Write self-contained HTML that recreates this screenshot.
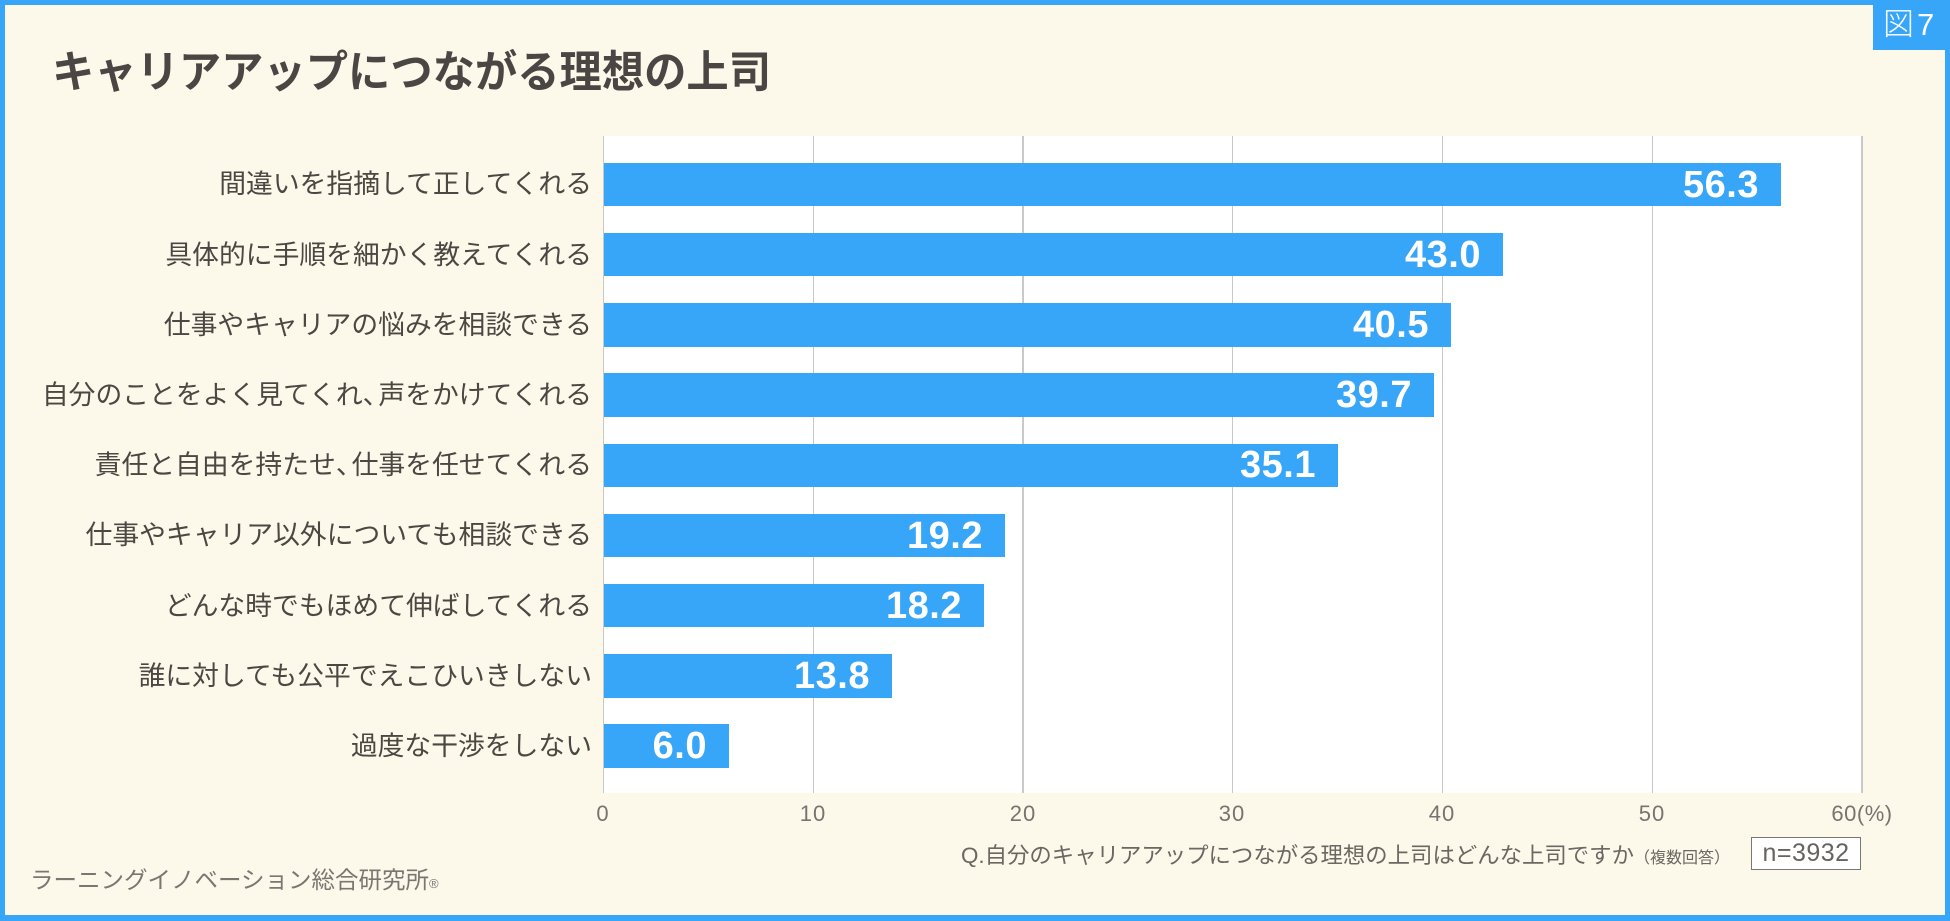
<!DOCTYPE html>
<html><head><meta charset="utf-8">
<style>
html,body{margin:0;padding:0;}
body{width:1950px;height:921px;position:relative;overflow:hidden;background:#37a5f8;font-family:"Liberation Sans","Noto Sans CJK JP",sans-serif;}
.inner{position:absolute;left:5px;top:5px;width:1940px;height:910px;background:#fcf8ea;}
.abs{position:absolute;white-space:nowrap;}
.titlesvg{position:absolute;left:0;top:0;}
.badge{position:absolute;left:1873px;top:0;width:77px;height:50px;background:#37a5f8;}
.badge span{position:absolute;left:10px;top:8px;font-size:31px;line-height:34px;color:#fff;letter-spacing:3px;font-family:"Liberation Sans","Noto Sans CJK JP",sans-serif;font-weight:300;}
.plot{position:absolute;left:603px;top:136px;width:1259px;height:657px;background:#fff;}
.grid{position:absolute;top:136px;height:657px;width:1.5px;background:#c9c9c9;}
.bar{position:absolute;left:603.5px;height:43.5px;background:#37a5f8;}
.val{position:absolute;height:44px;line-height:44px;font-size:38px;font-weight:bold;color:#fff;text-align:right;letter-spacing:0.5px;}
.lab{position:absolute;right:1358px;height:40px;line-height:40px;font-size:26.8px;color:#4b4743;text-align:right;white-space:nowrap;}
.tick{position:absolute;top:801px;width:80px;height:26px;line-height:26px;font-size:22px;color:#777470;text-align:center;letter-spacing:1px;}
.cm{letter-spacing:-11px;}
</style></head>
<body>
<div class="inner"></div>
<div class="badge"><span>図7</span></div>
<svg class="titlesvg" width="900" height="120" viewBox="0 0 900 120">
<text x="52" y="87" font-family="Liberation Sans, Noto Sans CJK JP, sans-serif" font-size="44" font-weight="bold" fill="#4a4643" textLength="719" lengthAdjust="spacingAndGlyphs">キャリアアップにつながる理想の上司</text>
</svg>

<div class="plot"></div>
<div class="grid" style="left:602.5px;"></div>
<div class="grid" style="left:812.5px;"></div>
<div class="grid" style="left:1022px;"></div>
<div class="grid" style="left:1231.5px;"></div>
<div class="grid" style="left:1441.5px;"></div>
<div class="grid" style="left:1651.5px;"></div>
<div class="grid" style="left:1861px;"></div>

<div class="bar" style="top:162.7px;width:1177.8px;"></div>
<div class="bar" style="top:232.9px;width:899.6px;"></div>
<div class="bar" style="top:303.1px;width:847.3px;"></div>
<div class="bar" style="top:373.3px;width:830.5px;"></div>
<div class="bar" style="top:443.5px;width:734.3px;"></div>
<div class="bar" style="top:513.7px;width:401.7px;"></div>
<div class="bar" style="top:583.9px;width:380.7px;"></div>
<div class="bar" style="top:654.1px;width:288.7px;"></div>
<div class="bar" style="top:724.3px;width:125.5px;"></div>

<div class="val" style="top:162.5px;left:1559px;width:200px;">56.3</div>
<div class="val" style="top:232.7px;left:1281px;width:200px;">43.0</div>
<div class="val" style="top:302.9px;left:1229px;width:200px;">40.5</div>
<div class="val" style="top:373.1px;left:1212px;width:200px;">39.7</div>
<div class="val" style="top:443.3px;left:1116px;width:200px;">35.1</div>
<div class="val" style="top:513.5px;left:783px;width:200px;">19.2</div>
<div class="val" style="top:583.7px;left:762px;width:200px;">18.2</div>
<div class="val" style="top:653.9px;left:670px;width:200px;">13.8</div>
<div class="val" style="top:724.1px;left:507px;width:200px;">6.0</div>

<div class="lab" style="top:164.4px;">間違いを指摘して正してくれる</div>
<div class="lab" style="top:234.6px;">具体的に手順を細かく教えてくれる</div>
<div class="lab" style="top:304.8px;">仕事やキャリアの悩みを相談できる</div>
<div class="lab" style="top:375px;">自分のことをよく見てくれ<span class="cm">、</span>声をかけてくれる</div>
<div class="lab" style="top:445.2px;">責任と自由を持たせ<span class="cm">、</span>仕事を任せてくれる</div>
<div class="lab" style="top:515.4px;">仕事やキャリア以外についても相談できる</div>
<div class="lab" style="top:585.6px;">どんな時でもほめて伸ばしてくれる</div>
<div class="lab" style="top:655.8px;">誰に対しても公平でえこひいきしない</div>
<div class="lab" style="top:726px;">過度な干渉をしない</div>

<div class="tick" style="left:563px;">0</div>
<div class="tick" style="left:773px;">10</div>
<div class="tick" style="left:983px;">20</div>
<div class="tick" style="left:1192px;">30</div>
<div class="tick" style="left:1402px;">40</div>
<div class="tick" style="left:1612px;">50</div>
<div class="tick" style="left:1812px;width:100px;letter-spacing:0.5px;">60(%)</div>

<div class="abs" style="left:961px;top:841px;height:30px;line-height:30px;font-size:22.4px;color:#6b6762;">Q.自分のキャリアアップにつながる理想の上司はどんな上司ですか<span style="font-size:16px;">（複数回答）</span></div>
<div class="abs" style="left:1751px;top:837px;width:108px;height:31px;border:1.5px solid #7a7672;background:#fff;font-size:25px;line-height:31px;color:#666360;text-align:center;letter-spacing:0.5px;">n=3932</div>

<div class="abs" style="left:30px;top:864px;height:32px;line-height:32px;font-size:23.5px;color:#7a7672;">ラーニングイノベーション総合研究所<span style="font-size:13px;">®</span></div>
</body></html>
